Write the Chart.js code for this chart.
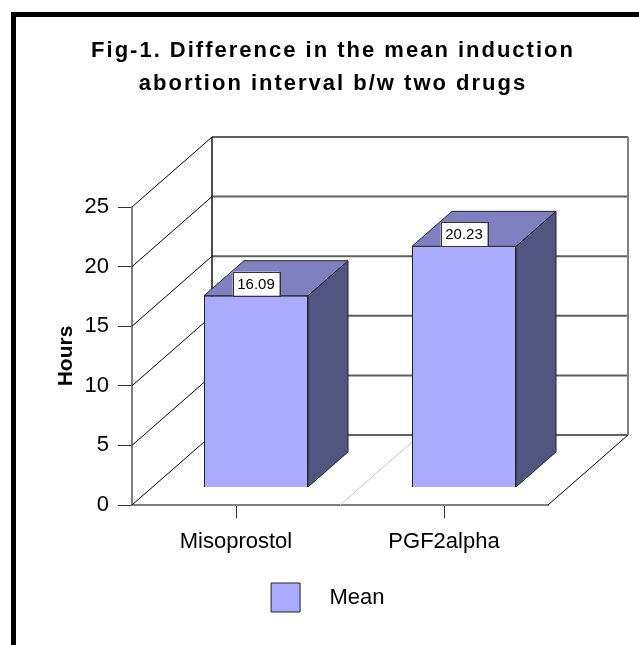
<!DOCTYPE html>
<html>
<head>
<meta charset="utf-8">
<script src="https://cdn.jsdelivr.net/npm/chart.js@4/dist/chart.umd.min.js"></script>
<style>
  html, body { margin: 0; padding: 0; background: #fff; }
  #wrap { position: relative; width: 639px; height: 645px; }
  #frame { position: absolute; left: 11px; top: 12px; width: 628px; height: 640px;
           border-top: 5px solid #000; border-left: 5px solid #000; box-sizing: border-box; pointer-events: none; }
</style>
</head>
<body>
<div id="wrap">
  <canvas id="myChart"></canvas>
  <div id="frame"></div>
</div>
<script>

var categories = ['Misoprostol', 'PGF2alpha'];
var meanHours = [16.09, 20.23];
var yTicks = [0, 5, 10, 15, 20, 25];
var seriesName = 'Mean';


var depthX = 80, depthY = -70;   // full depth of the 3d box
var barFront = 0.25, barBack = 0.75;
var faceColor = '#AAAAFF', topColor = '#8080C0', sideColor = '#525580';
var titleCenter = 333;

Chart.defaults.font.family = "'Liberation Sans', Arial, sans-serif";

function line(ctx, x1, y1, x2, y2, color, width) {
    ctx.beginPath();
    ctx.strokeStyle = color;
    ctx.lineWidth = width;
    ctx.moveTo(x1, y1);
    ctx.lineTo(x2, y2);
    ctx.stroke();
}

function poly(ctx, pts, fill) {
    ctx.beginPath();
    ctx.moveTo(pts[0][0], pts[0][1]);
    for (var i = 1; i < pts.length; i++) ctx.lineTo(pts[i][0], pts[i][1]);
    ctx.closePath();
    ctx.fillStyle = fill;
    ctx.fill();
    ctx.strokeStyle = '#222';
    ctx.lineWidth = 1;
    ctx.stroke();
}

var fake3d = {
    id: 'fake3d',
    afterLayout: function (chart) {
        var t = chart.titleBlock;
        if (!t) return;
        var w = t.right - t.left;
        t.left = titleCenter - w / 2;
        t.right = titleCenter + w / 2;
    },
    beforeDraw: function (chart) {
        var t = chart.titleBlock;
        if (t && !t._spaced) {
            var orig = t.draw;
            t.draw = function () {
                var c = this.ctx;
                c.save();
                c.letterSpacing = '2px';
                orig.apply(this, arguments);
                c.restore();
            };
            t._spaced = true;
        }
    },
    beforeDatasetsDraw: function (chart) {
        var ctx = chart.ctx, a = chart.chartArea;
        var xs = chart.scales.x, ys = chart.scales.y;
        ctx.save();
        // left wall diagonals + back wall grid
        ys.ticks.forEach(function (t) {
            var py = ys.getPixelForValue(t.value);
            line(ctx, a.left, py, a.left + depthX, py + depthY, '#000', 1);
            line(ctx, a.left + depthX, py + depthY, a.right + depthX, py + depthY, '#606060', 2);
        });
        line(ctx, a.left + depthX, a.top + depthY, a.left + depthX, a.bottom + depthY, '#111', 1.5);
        line(ctx, a.right + depthX, a.top + depthY, a.right + depthX, a.bottom + depthY, '#808080', 2);
        // floor
        line(ctx, a.right, a.bottom, a.right + depthX, a.bottom + depthY, '#000', 1);
        for (var i = 1; i < categories.length; i++) {
            var bx = (xs.getPixelForValue(i - 1) + xs.getPixelForValue(i)) / 2;
            line(ctx, bx, a.bottom, bx + depthX, a.bottom + depthY, '#c8c8c8', 1);
        }
        ctx.restore();
        ctx.save();
        ctx.translate(depthX * barFront, depthY * barFront);
    },
    afterDatasetsDraw: function (chart) {
        var ctx = chart.ctx;
        ctx.restore();
        var ox = depthX * barFront, oy = depthY * barFront;
        var dx = depthX * (barBack - barFront), dy = depthY * (barBack - barFront);
        var meta = chart.getDatasetMeta(0);
        meta.data.forEach(function (bar, i) {
            var p = bar.getProps(['x', 'y', 'base', 'width'], true);
            var x1 = p.x - p.width / 2 + ox, x2 = p.x + p.width / 2 + ox;
            var yt = p.y + oy, yb = p.base + oy;
            poly(ctx, [[x2, yt], [x2, yb], [x2 + dx, yb + dy], [x2 + dx, yt + dy]], sideColor);
            poly(ctx, [[x1, yt], [x2, yt], [x2 + dx, yt + dy], [x1 + dx, yt + dy]], topColor);

            // value label
            var txt = meanHours[i].toFixed(2);
            ctx.save();
            ctx.font = "15px 'Liberation Sans', Arial, sans-serif";
            var tw = ctx.measureText(txt).width;
            var bw = tw + 9, bh = 24;
            var cx = p.x + ox;
            ctx.fillStyle = '#fff';
            ctx.fillRect(cx - bw / 2, yt - bh, bw, bh);
            ctx.strokeStyle = '#333';
            ctx.lineWidth = 1;
            ctx.strokeRect(Math.round(cx - bw / 2) + 0.5, Math.round(yt - bh) + 0.5, Math.round(bw), bh);
            ctx.fillStyle = '#000';
            ctx.textAlign = 'center';
            ctx.textBaseline = 'middle';
            ctx.fillText(txt, cx, yt - bh / 2 + 1);
            ctx.restore();
        });
    }
};

var chartId = document.getElementById('myChart').getContext('2d');

var myChart = new Chart(chartId, {
    type: 'bar',
    data: {
        labels: categories,
        datasets: [{
            label: seriesName,
            data: meanHours,
            backgroundColor: faceColor,
            borderColor: '#222',
            borderWidth: 1,
            barPercentage: 0.5,
            categoryPercentage: 1.0,
            clip: false
        }]
    },
    options: {
        responsive: true,
        maintainAspectRatio: false,
        animation: false,
        layout: { padding: { left: 10, right: 91, top: 0, bottom: 23 } },
        plugins: {
            title: {
                display: true,
                text: ['Fig-1. Difference in the mean induction', 'abortion interval b/w two drugs'],
                color: '#000',
                font: { size: 22, weight: 'bold', lineHeight: 1.5 },
                padding: { top: 34, bottom: 107 }
            },
            legend: {
                display: true,
                position: 'bottom',
                fullSize: false,
                labels: {
                    boxWidth: 29,
                    boxHeight: 29,
                    padding: 10,
                    color: '#000',
                    font: { size: 22 },
                    generateLabels: function (chart) {
                        var items = Chart.defaults.plugins.legend.labels.generateLabels(chart);
                        items.forEach(function (it) { it.text = '   ' + it.text + '    '; });
                        return items;
                    }
                }
            },
            tooltip: { enabled: false }
        },
        scales: {
            x: {
                afterFit: function (s) { s.height = 68; },
                border: { display: true, color: '#808080', width: 2 },
                grid: { drawOnChartArea: false, offset: false, tickLength: 13, color: '#333' },
                ticks: { padding: 11, color: '#000', font: { size: 22 } }
            },
            y: {
                min: 0,
                max: 25,
                afterBuildTicks: function (s) { s.ticks = yTicks.map(function (v) { return { value: v }; }); },
                afterFit: function (s) { s.width = 122; },
                border: { display: true, color: '#808080', width: 2 },
                grid: { drawOnChartArea: false, tickLength: 14, color: '#333' },
                ticks: { padding: 9, color: '#000', font: { size: 22 } },
                title: {
                    display: true,
                    text: 'Hours',
                    color: '#000',
                    font: { size: 21, weight: 'bold' },
                    padding: { top: 44, bottom: 0 }
                }
            }
        }
    },
    plugins: [fake3d]
});
</script>
</body>
</html>
